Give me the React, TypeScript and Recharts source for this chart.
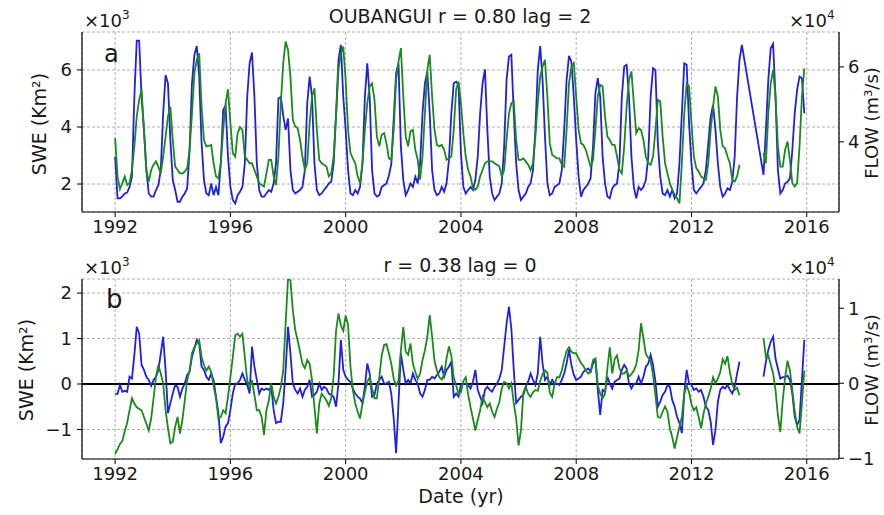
import React from 'react';
import { LineChart, Line, XAxis, YAxis, CartesianGrid, ReferenceLine } from 'recharts';

const START_YEAR = 1992;
const yearTicks = [1992, 1996, 2000, 2004, 2008, 2012, 2016];
const sweTopTicks = [2, 4, 6];
const flowTopTicks = [4, 6];
const sweAnomTicks = [-1, 0, 1, 2];
const flowAnomTicks = [-1, 0, 1];

// monthly values, Jan 1992 .. Dec 2015 (one row per year)
// SWE in x10^3 Km2
const sweTop = [
  2.96, 1.5, 1.5, 1.56, 1.67, 1.7, 1.9, 2.26, 5.06, 7.03, 7.03, 5.06,
  3.9, 2.49, 1.67, 1.56, 1.56, 1.79, 1.96, 2.49, 4.48, 5.82, 5.53, 3.54,
  2.14, 1.79, 1.38, 1.38, 1.56, 1.67, 1.85, 3.19, 5.53, 6.53, 6.84, 5.77,
  3.43, 2.14, 1.67, 1.61, 2.02, 1.61, 1.9, 1.61, 2.73, 4.6, 4.74, 2.96,
  1.9, 1.44, 1.32, 1.61, 1.73, 1.9, 2.73, 5.06, 6.23, 6.61, 5.06, 2.73,
  1.79, 1.56, 1.56, 1.67, 1.79, 1.73, 2.02, 2.73, 5.0, 5.06, 4.4, 3.9,
  4.3, 2.49, 1.79, 1.67, 1.73, 1.79, 1.9, 2.49, 4.83, 5.77, 5.06, 2.73,
  1.79, 1.61, 1.67, 1.79, 1.9, 2.02, 2.08, 2.73, 4.48, 6.35, 6.88, 5.06,
  3.9, 2.49, 1.67, 1.61, 1.79, 1.67, 1.9, 2.73, 5.06, 6.23, 5.06, 2.49,
  1.67, 1.56, 1.61, 1.9, 1.96, 2.02, 2.3, 2.7, 4.3, 5.9, 6.23, 3.31,
  2.14, 1.61, 1.79, 2.02, 1.9, 2.26, 2.02, 2.73, 4.48, 5.53, 5.94, 4.48,
  2.49, 1.79, 1.61, 1.67, 1.9, 1.73, 2.02, 2.84, 4.48, 5.53, 5.59, 5.47,
  3.08, 1.9, 1.67, 1.79, 1.9, 1.79, 2.14, 2.96, 4.48, 5.53, 6.02, 3.9,
  2.26, 1.67, 1.44, 1.56, 1.67, 2.02, 3.31, 5.65, 6.47, 6.53, 4.48, 2.73,
  1.79, 1.44, 1.56, 1.67, 1.9, 2.02, 2.49, 3.9, 6.0, 6.84, 5.65, 3.66,
  2.02, 1.61, 1.67, 1.9, 1.96, 2.02, 2.49, 3.9, 5.65, 6.49, 6.29, 5.06,
  3.54, 2.26, 1.56, 1.79, 1.9, 2.02, 2.2, 3.31, 5.18, 5.71, 5.06, 2.96,
  2.02, 1.56, 1.5, 1.85, 1.96, 2.02, 2.73, 5.06, 6.12, 6.18, 5.06, 2.96,
  1.9, 1.5, 1.9, 1.79, 1.9, 2.14, 2.96, 5.06, 6.06, 6.0, 3.43, 2.26,
  1.67, 1.61, 1.79, 1.56, 1.79, 1.5, 1.67, 2.73, 4.48, 6.23, 6.18, 4.13,
  2.73, 1.79, 1.67, 1.79, 1.9, 2.02, 2.49, 3.43, 4.36, 4.77, 3.9, 2.73,
  1.9, 1.56, 1.67, 1.85, 1.79, 2.08, 2.96, 5.06, 6.35, 6.88, null, null,
  null, null, null, null, null, null, 2.32, 3.9, 5.65, 6.76, 6.91, 5.06,
  2.49, 1.67, 1.79, 2.02, 2.08, 2.2, 3.19, 4.48, 5.3, 5.77, 5.71, 4.48,
];

// FLOW in x10^4 m3/s
const flowTop = [
  4.1, 3.08, 2.74, 2.9, 3.08, 2.85, 2.9, 3.25, 3.88, 4.68, 5.12, 5.39,
  4.32, 3.25, 2.94, 3.25, 3.39, 3.48, 3.34, 3.16, 3.61, 4.14, 4.68, 4.94,
  4.05, 3.34, 3.25, 3.16, 3.16, 3.21, 3.3, 3.79, 4.76, 5.83, 6.19, 6.36,
  4.94, 4.05, 3.88, 3.89, 3.92, 3.43, 3.08, 3.03, 3.43, 4.32, 5.03, 5.4,
  4.5, 3.7, 3.61, 4.23, 4.39, 4.32, 3.61, 3.52, 3.43, 3.43, 3.25, 3.08,
  2.9, 2.85, 2.81, 3.16, 3.52, 3.52, 3.08, 2.85, 3.61, 5.03, 6.1, 6.68,
  6.45, 5.74, 4.59, 4.41, 4.36, 4.05, 3.61, 3.25, 3.43, 4.5, 5.21, 5.43,
  4.32, 3.52, 3.43, 3.39, 3.34, 3.08, 3.16, 3.61, 4.68, 5.92, 6.36, 6.54,
  5.65, 4.32, 3.7, 3.56, 3.43, 3.08, 2.9, 3.43, 4.32, 5.03, 5.48, 5.56,
  5.12, 4.14, 3.88, 4.19, 4.23, 3.96, 3.56, 3.52, 4.32, 5.65, 6.14, 6.5,
  5.21, 4.14, 3.88, 4.28, 4.32, 3.79, 3.52, 2.99, 3.61, 4.76, 5.92, 6.32,
  5.21, 4.32, 3.92, 3.88, 3.92, 3.79, 3.52, 3.56, 3.61, 4.32, 5.39, 5.61,
  5.03, 4.23, 3.61, 3.25, 3.08, 2.76, 2.72, 2.81, 3.08, 3.25, 3.43, 3.48,
  3.48, 3.48, 3.43, 3.39, 3.34, 3.08, 3.25, 4.05, 4.76, 5.03, 5.08, 4.05,
  3.52, 3.52, 3.56, 3.48, 3.39, 3.25, 3.43, 4.14, 5.03, 5.74, 6.01, 6.19,
  5.21, 3.96, 3.65, 3.61, 3.56, 3.56, 3.39, 3.34, 4.32, 5.56, 6.01, 6.1,
  5.21, 4.32, 3.96, 3.92, 3.79, 3.56, 3.34, 3.52, 4.32, 5.21, 5.52, 5.48,
  4.68, 4.14, 4.05, 3.92, 3.92, 3.61, 3.25, 3.16, 3.88, 4.94, 5.65, 5.88,
  5.03, 4.23, 4.36, 4.32, 4.05, 3.61, 3.43, 3.39, 3.61, 4.32, 5.12, 5.08,
  4.14, 3.43, 3.16, 2.9, 2.72, 2.59, 2.5, 2.36, 3.43, 4.76, 5.56, 5.48,
  4.5, 3.61, 3.3, 3.21, 3.08, 3.03, 2.99, 3.43, 4.32, 4.94, 5.48, 5.21,
  4.32, 3.88, 3.83, 3.61, 3.43, 2.99, 2.94, 3.08, 3.39, null, null, null,
  null, null, null, null, null, null, 3.7, 3.43, 4.76, 5.56, 5.92, 5.21,
  3.88, 3.34, 3.34, 3.79, 4.01, 3.52, 2.9, 2.81, 2.9, 3.88, 5.21, 5.96,
];

// anomalies, SWE x10^3 Km2
const sweAnom = [
  -0.21, -0.22, -0.02, -0.17, -0.15, -0.17, 0.16, 0.12, 0.64, 1.26, 1.11, 0.42,
  0.31, 0.16, 0.09, -0.04, 0.09, 0.16, 0.31, 0.67, 1.04, 0.31, -0.64, -0.42,
  -0.21, -0.02, -0.06, -0.28, -0.1, 0.01, 0.2, 0.27, 0.6, 0.78, 0.97, 0.89,
  0.38, 0.31, 0.16, 0.09, 0.23, 0.09, -0.28, -0.64, -1.3, -1.16, -0.94, -0.86,
  -0.57, -0.21, 0.01, 0.01, 0.09, 0.23, 0.09, -0.02, -0.21, 0.82, 0.38, 0.09,
  -0.21, -0.1, -0.13, -0.1, -0.13, -0.06, -0.57, -0.86, -0.83, -0.83, -0.42, 0.31,
  1.26, 0.67, 0.01, -0.13, -0.21, -0.1, -0.28, -0.13, -0.06, 0.09, -0.28, -0.24,
  -0.17, 0.01, -0.13, -0.06, -0.1, -0.21, -0.24, -0.28, -0.5, 0.01, 0.97, 0.31,
  0.16, 0.09, 0.05, -0.1, -0.21, -0.28, -0.32, -0.42, -0.06, 0.45, 0.23, -0.28,
  -0.24, 0.01, 0.09, 0.16, 0.01, 0.01, 0.05, -0.21, -0.75, -1.52, -0.42, 0.67,
  0.31, 0.01, 0.09, 0.01, 0.23, 0.09, 0.01, -0.21, -0.28, -0.13, 0.09, 0.09,
  0.16, 0.12, 0.2, 0.27, 0.38, 0.16, 0.31, 0.38, 0.49, -0.28, -0.21, -0.28,
  -0.02, 0.01, 0.01, -0.02, -0.1, 0.05, 0.31, -0.13, -0.28, -0.42, -0.13, -0.06,
  -0.13, -0.17, -0.06, 0.01, 0.12, 0.31, 0.82, 1.33, 1.7, 1.22, 0.31, -0.42,
  -0.35, -0.28, -0.24, -0.06, 0.05, 0.23, 0.09, -0.02, 0.23, 1.04, 0.45, 0.09,
  0.16, -0.02, 0.09, 0.01, 0.01, -0.02, 0.09, 0.23, 0.45, 0.75, 0.42, 0.2,
  0.09, 0.12, 0.16, 0.27, 0.31, 0.34, 0.27, 0.45, 0.53, -0.13, -0.68, -0.13,
  -0.17, 0.16, 0.01, -0.1, 0.05, 0.09, 0.12, 0.31, 0.42, 0.34, 0.01, -0.1,
  0.01, 0.01, 0.16, 0.01, 0.16, 0.38, 0.45, 0.64, 0.42, 0.05, -0.5, -0.39,
  -0.24, -0.17, -0.02, -0.06, -0.35, -0.5, -0.72, -0.86, -1.08, -0.21, 0.31, 0.01,
  -0.02, -0.13, -0.1, -0.17, -0.13, -0.28, -0.5, -0.57, -0.83, -1.34, -1.01, -0.39,
  -0.13, -0.06, -0.1, -0.02, -0.13, -0.21, -0.06, 0.23, 0.49, null, null, null,
  null, null, null, null, null, null, 0.16, 0.49, 0.75, 0.93, 1.04, 0.56,
  0.34, 0.12, 0.15, 0.15, 0.18, 0.09, -0.21, -0.72, -0.9, -0.79, 0.09, 0.97,
];

// anomalies, FLOW x10^4 m3/s
const flowAnom = [
  -0.94, -0.88, -0.81, -0.77, -0.64, -0.53, -0.36, -0.2, -0.27, -0.32, -0.34, -0.36,
  -0.45, -0.54, -0.63, -0.47, -0.2, 0.08, 0.24, 0.13, 0.0, -0.36, -0.6, -0.8,
  -0.78, -0.58, -0.45, -0.67, -0.49, -0.23, 0.04, 0.17, 0.4, 0.48, 0.53, 0.57,
  0.35, 0.24, 0.17, 0.22, 0.15, -0.03, -0.2, -0.47, -0.45, -0.36, -0.4, -0.18,
  0.08, 0.35, 0.64, 0.66, 0.62, 0.66, 0.35, 0.04, -0.05, 0.04, -0.16, -0.36,
  -0.36, -0.45, -0.69, -0.36, -0.23, 0.0, -0.18, -0.27, -0.18, -0.05, 0.17, 0.8,
  1.4, 1.37, 0.97, 0.71, 0.57, 0.42, 0.26, 0.2, 0.31, 0.26, 0.04, -0.32,
  -0.67, -0.27, -0.14, -0.18, -0.23, -0.3, -0.2, 0.1, 0.7, 0.93, 0.77, 0.7,
  0.9, 0.78, 0.22, -0.09, -0.27, -0.38, -0.47, -0.27, -0.12, 0.02, 0.08, -0.07,
  -0.2, -0.2, 0.08, 0.37, 0.51, 0.52, 0.4, 0.26, 0.06, -0.03, 0.04, 0.44,
  0.75, 0.42, 0.38, 0.53, 0.26, 0.15, 0.06, 0.13, 0.31, 0.44, 0.62, 0.91,
  0.62, 0.3, 0.17, 0.08, 0.05, 0.11, 0.33, 0.49, 0.37, 0.08, -0.03, -0.14,
  -0.12, 0.03, 0.08, -0.15, -0.32, -0.47, -0.63, -0.49, -0.36, -0.18, -0.25, -0.32,
  -0.27, -0.38, -0.45, -0.34, -0.25, -0.07, 0.02, 0.0, -0.07, 0.0, -0.27, -0.47,
  -0.83, -0.63, -0.12, -0.05, -0.14, -0.18, -0.12, -0.09, -0.1, 0.03, 0.12, 0.17,
  0.14, -0.13, -0.18, -0.01, 0.08, 0.08, 0.17, 0.31, 0.43, 0.48, 0.42, 0.4,
  0.4, 0.33, 0.27, 0.23, 0.17, 0.13, 0.15, 0.31, 0.33, -0.03, -0.14, -0.2,
  -0.14, 0.2, 0.48, 0.13, 0.32, 0.37, 0.2, 0.13, 0.13, 0.17, 0.09, 0.12,
  0.17, 0.25, 0.44, 0.8, 0.6, 0.39, 0.34, 0.3, 0.11, -0.16, -0.45, -0.46,
  -0.38, -0.31, -0.38, -0.6, -0.72, -0.87, -0.72, -0.58, -0.45, -0.14, -0.03, -0.12,
  -0.28, -0.36, -0.32, -0.45, -0.6, -0.41, -0.27, -0.18, -0.07, 0.08, 0.0, 0.06,
  0.15, 0.32, 0.26, 0.36, 0.15, -0.01, -0.09, -0.06, -0.16, null, null, null,
  null, null, null, null, null, null, 0.6, 0.35, 0.37, 0.25, 0.13, -0.09,
  -0.43, -0.65, -0.23, 0.08, 0.3, 0.17, -0.09, -0.38, -0.58, -0.67, -0.27, 0.17,
];

const X_DOMAIN: [number, number] = [1990.85, 2017.12];
const BLUE = '#1f1fe8';
const GREEN = '#1b8a1b';
const FONT = 'DejaVu Sans';

const topRows = sweTop.map((v, i) => ({ t: START_YEAR + i / 12, swe: v, flow: flowTop[i] }));
const bottomRows = sweAnom.map((v, i) => ({ t: START_YEAR + i / 12, swe: v, flow: flowAnom[i] }));

const fmt = (v: number) => (v < 0 ? `\u2212${Math.abs(v)}` : `${v}`);
const tickStyle = { fontSize: 18, fill: '#1a1a1a', fontFamily: FONT };

function Panel({ rows, top, sweDomain, flowDomain, sweTicks, flowTicks, anomaly }: any) {
  return (
    <div style={{ position: 'absolute', left: 0, top }}>
      <LineChart width={884} height={242} data={rows} margin={{ top: 32, right: 0, bottom: 0, left: 0 }}>
        <CartesianGrid xAxisId="x" yAxisId="L" stroke="#b0b0b0" strokeDasharray="3 2" />
        <XAxis
          xAxisId="x"
          dataKey="t"
          type="number"
          domain={X_DOMAIN}
          ticks={yearTicks}
          interval={0}
          allowDataOverflow
          height={30}
          tickSize={5}
          tickMargin={3}
          axisLine={{ stroke: '#000', strokeWidth: 1.2 }}
          tickLine={{ stroke: '#000' }}
          tick={tickStyle}
        />
        <XAxis
          xAxisId="top"
          orientation="top"
          dataKey="t"
          type="number"
          domain={X_DOMAIN}
          allowDataOverflow
          height={0}
          tick={false}
          tickLine={false}
          axisLine={{ stroke: '#000', strokeWidth: 1.2 }}
        />
        <YAxis
          yAxisId="L"
          width={82}
          domain={sweDomain}
          ticks={sweTicks}
          interval={0}
          allowDataOverflow
          tickSize={5}
          tickMargin={5}
          tickFormatter={fmt}
          axisLine={{ stroke: '#000', strokeWidth: 1.2 }}
          tickLine={{ stroke: '#000' }}
          tick={tickStyle}
        />
        <YAxis
          yAxisId="R"
          orientation="right"
          width={45}
          domain={flowDomain}
          ticks={flowTicks}
          interval={0}
          allowDataOverflow
          tickSize={5}
          tickMargin={4}
          tickFormatter={fmt}
          axisLine={{ stroke: '#000', strokeWidth: 1.2 }}
          tickLine={{ stroke: '#000' }}
          tick={tickStyle}
        />
        {anomaly && <ReferenceLine xAxisId="x" yAxisId="L" y={0} stroke="#000" strokeWidth={1.8} />}
        <Line
          xAxisId="x"
          yAxisId="L"
          dataKey="swe"
          stroke={BLUE}
          strokeWidth={1.8}
          dot={false}
          connectNulls={!anomaly}
          isAnimationActive={false}
        />
        <Line
          xAxisId="x"
          yAxisId="R"
          dataKey="flow"
          stroke={GREEN}
          strokeWidth={1.8}
          dot={false}
          isAnimationActive={false}
        />
      </LineChart>
    </div>
  );
}

export default function App() {
  const txt = { fontFamily: FONT, fill: '#1a1a1a' };
  return (
    <div
      style={{
        position: 'absolute',
        left: 0,
        top: 0,
        width: 884,
        height: 515,
        overflow: 'hidden',
        background: '#fff',
      }}
    >
      <Panel
        rows={topRows}
        top={0}
        sweDomain={[1.02, 7.33]}
        flowDomain={[2.13, 6.93]}
        sweTicks={sweTopTicks}
        flowTicks={flowTopTicks}
        anomaly={false}
      />
      <Panel
        rows={bottomRows}
        top={247}
        sweDomain={[-1.65, 2.31]}
        flowDomain={[-1.01, 1.39]}
        sweTicks={sweAnomTicks}
        flowTicks={flowAnomTicks}
        anomaly
      />
      <svg width={884} height={515} style={{ position: 'absolute', left: 0, top: 0, pointerEvents: 'none' }}>
        <text x={460} y={23} textAnchor="middle" fontSize={19} {...txt}>OUBANGUI r = 0.80 lag = 2</text>
        <text x={84} y={27} fontSize={18} {...txt}>×10<tspan dy={-8} fontSize={12}>3</tspan></text>
        <text x={789} y={27} fontSize={18} {...txt}>×10<tspan dy={-8} fontSize={12}>4</tspan></text>
        <text x={104} y={62} fontSize={24} {...txt}>a</text>
        <text x={0} y={0} fontSize={19} textAnchor="middle" transform="translate(46,124) rotate(-90)" {...txt}>SWE (Km²)</text>
        <text x={0} y={0} fontSize={18} textAnchor="middle" transform="translate(878,123) rotate(-90)" {...txt}>FLOW (m³/s)</text>

        <text x={460} y={272} textAnchor="middle" fontSize={19} {...txt}>r = 0.38 lag = 0</text>
        <text x={84} y={274} fontSize={18} {...txt}>×10<tspan dy={-8} fontSize={12}>3</tspan></text>
        <text x={789} y={274} fontSize={18} {...txt}>×10<tspan dy={-8} fontSize={12}>4</tspan></text>
        <text x={106} y={308} fontSize={26} {...txt}>b</text>
        <text x={0} y={0} fontSize={19} textAnchor="middle" transform="translate(33,370) rotate(-90)" {...txt}>SWE (Km²)</text>
        <text x={0} y={0} fontSize={18} textAnchor="middle" transform="translate(878,370) rotate(-90)" {...txt}>FLOW (m³/s)</text>

        <text x={461} y={503} textAnchor="middle" fontSize={19} {...txt}>Date (yr)</text>
      </svg>
    </div>
  );
}
